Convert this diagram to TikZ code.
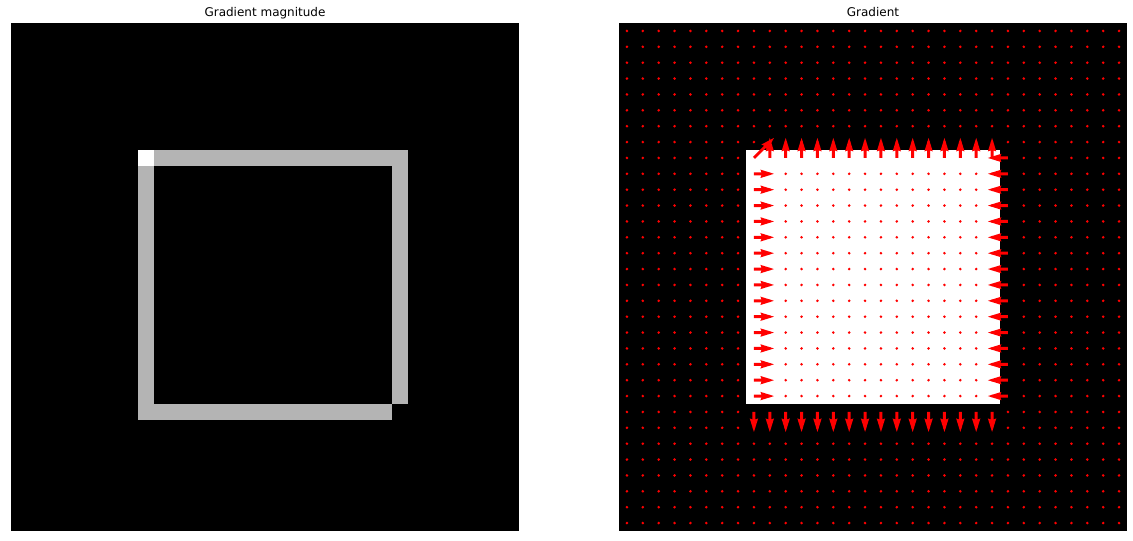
\documentclass[tikz,border=0pt]{standalone}
\usepackage{fontspec}
\setmainfont{DejaVu Sans}
\begin{document}
\begin{tikzpicture}[x=1pt,y=-1pt]
\definecolor{magray}{RGB}{180,180,180}
\definecolor{qcol}{RGB}{255,0,0}
\def\cellsz{15.875}
\useasboundingbox (0,0) rectangle (1133,541);
\fill[white] (0,0) rectangle (1133,541);
% titles
\node[anchor=base, font=\fontsize{12}{14}\selectfont, inner sep=0] (t1) at (265,16.7) {Gradient magnitude};
\node[anchor=base, font=\fontsize{12}{14}\selectfont, inner sep=0] (t2) at (873,16.7) {Gradient};
% left panel
\fill[black] (11,23) rectangle (519,531);
\begin{scope}[shift={(11,23)}]
\fill[magray] ({9*\cellsz},{8*\cellsz}) rectangle ({24*\cellsz},{9*\cellsz});
\fill[white] ({8*\cellsz},{8*\cellsz}) rectangle ({9*\cellsz},{9*\cellsz});
\fill[magray] ({24*\cellsz},{8*\cellsz}) rectangle ({25*\cellsz},{24*\cellsz});
\fill[magray] ({8*\cellsz},{9*\cellsz}) rectangle ({9*\cellsz},{25*\cellsz});
\fill[magray] ({8*\cellsz},{24*\cellsz}) rectangle ({24*\cellsz},{25*\cellsz});
\end{scope}
% right panel
\fill[black] (619,23) rectangle (1127,531);
\fill[white] ({619+8*\cellsz},{23+8*\cellsz}) rectangle ({619+24*\cellsz},{23+24*\cellsz});
\newcommand\qarrow[4]{%
 \fill[qcol, shift={(#1,#2)}, rotate=#3] (0,-1.45) -- ({#4-12.5},-1.45) -- ({#4-13.5},-4.2) -- (#4,0) -- ({#4-13.5},4.2) -- ({#4-12.5},1.45) -- (0,1.45) -- cycle;}
% dots
\foreach \i in {0,...,31}{
 \foreach \j in {0,...,31}{
  \pgfmathtruncatemacro\qskip{((\i==8)&&(\j>=8)&&(\j<=24)) || ((\j==8)&&(\i>=9)&&(\i<=23)) || ((\i==24)&&(\j>=8)&&(\j<=23)) || ((\j==24)&&(\i>=8)&&(\i<=23))}
  \ifnum\qskip=0
   \fill[qcol] ({619+(\i+0.5)*\cellsz},{23+(\j+0.5)*\cellsz}) circle[radius=1.4];
  \fi
 }
}
% arrows
\pgfmathsetmacro\ax{619+8.5*\cellsz}
\pgfmathsetmacro\ay{23+8.5*\cellsz}
\qarrow{\ax}{\ay}{45}{28.3}
\foreach \i in {9,...,23}{
 \pgfmathsetmacro\cx{619+(\i+0.5)*\cellsz}
 \pgfmathsetmacro\cy{23+8.5*\cellsz}
 \qarrow{\cx}{\cy}{90}{20}
}
\foreach \j in {9,...,23}{
 \pgfmathsetmacro\cx{619+8.5*\cellsz}
 \pgfmathsetmacro\cy{23+(\j+0.5)*\cellsz}
 \qarrow{\cx}{\cy}{0}{20}
}
\foreach \j in {8,...,23}{
 \pgfmathsetmacro\cx{619+24.5*\cellsz}
 \pgfmathsetmacro\cy{23+(\j+0.5)*\cellsz}
 \qarrow{\cx}{\cy}{180}{20}
}
\foreach \i in {8,...,23}{
 \pgfmathsetmacro\cx{619+(\i+0.5)*\cellsz}
 \pgfmathsetmacro\cy{23+24.5*\cellsz}
 \qarrow{\cx}{\cy}{270}{20}
}
\end{tikzpicture}
\end{document}
